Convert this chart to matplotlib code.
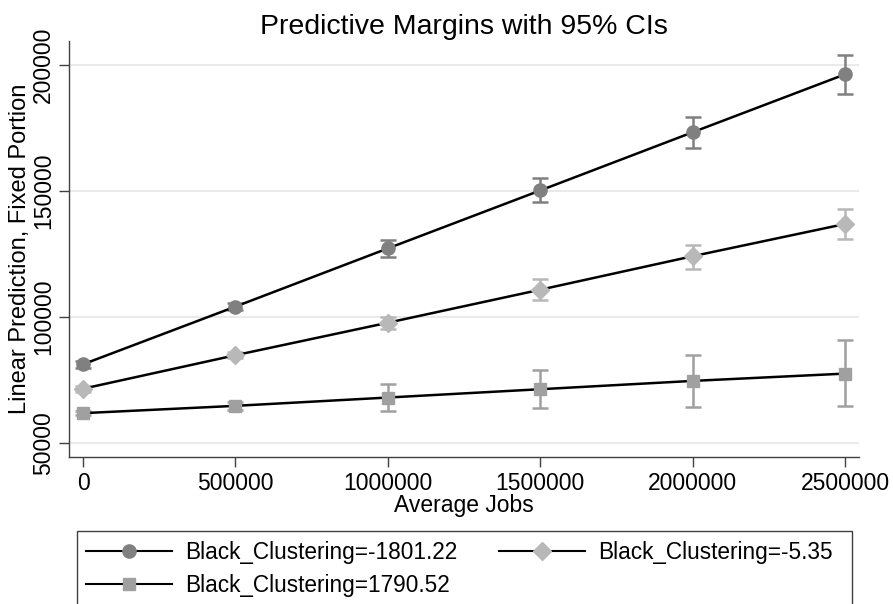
import numpy as np
import matplotlib
matplotlib.use("Agg")
import matplotlib.pyplot as plt
from matplotlib.patches import Rectangle

# Data
jobs = [0, 500000, 1000000, 1500000, 2000000, 2500000]
labels = ["Black_Clustering=-1801.22", "Black_Clustering=-5.35", "Black_Clustering=1790.52"]

low_fit = [81200, 104100, 127200, 150200, 173300, 196300]
low_lo = [79800, 102600, 123900, 145500, 166900, 188400]
low_hi = [82600, 105600, 130500, 155000, 179500, 204100]

mid_fit = [71500, 84800, 97700, 110800, 124100, 136900]
mid_lo = [70300, 83500, 95400, 106600, 118900, 131100]
mid_hi = [72700, 86100, 100000, 115000, 128600, 143000]

high_fit = [61800, 64700, 68000, 71300, 74600, 77500]
high_lo = [60900, 63000, 62800, 63800, 64200, 64700]
high_hi = [62700, 66400, 73400, 79000, 84900, 90900]

fits = [low_fit, mid_fit, high_fit]
los = [low_lo, mid_lo, high_lo]
his = [low_hi, mid_hi, high_hi]
markers = ["o", "D", "s"]
msizes = [9.5, 9.5, 9]
colors = ["#808080", "#b8b8b8", "#a0a0a0"]

plt.rcParams["font.family"] = ["Liberation Sans", "DejaVu Sans"]

W, H = 893, 604
fig = plt.figure(figsize=(W / 100, H / 100), dpi=100)
ax = fig.add_axes([0.0773, 0.2434, 0.8847, 0.6886])

handles = []
for fit, lo, hi, m, ms, c, lab in zip(fits, los, his, markers, msizes, colors, labels):
    fit = np.array(fit)
    yerr = [fit - np.array(lo), np.array(hi) - fit]
    ax.errorbar(jobs, fit, yerr=yerr, fmt="none", ecolor=c, elinewidth=1.8,
                capsize=6, capthick=1.8, zorder=2)
    ax.plot(jobs, fit, color="black", lw=1.8, zorder=3)
    ax.plot(jobs, fit, ls="none", marker=m, ms=ms, color=c, mec=c, zorder=4)
    h, = ax.plot([], [], color="black", lw=1.5, marker=m, ms=ms, mfc=c, mec=c, label=lab)
    handles.append(h)

ax.set_xlim(-46000, 2546000)
ax.set_ylim(44400, 209500)
ax.set_xticks(jobs)
ax.set_xticklabels([str(j) for j in jobs])
ax.set_yticks([50000, 100000, 150000, 200000])
ax.set_yticklabels(["50000", "100000", "150000", "200000"], rotation=90, va="center")
ax.tick_params(axis="both", labelsize=16.5, length=7, width=1, color="#404040", direction="out")
ax.tick_params(axis="x", pad=4)
ax.tick_params(axis="y", pad=3)

ax.grid(axis="y", color="#eaeaea", lw=1.5)
ax.set_axisbelow(True)
for s in ["top", "right"]:
    ax.spines[s].set_visible(False)
for s in ["left", "bottom"]:
    ax.spines[s].set_color("#404040")
    ax.spines[s].set_linewidth(1)

ax.set_xlabel("Average Jobs", fontsize=16.5, labelpad=-1)
ax.set_ylabel("Linear Prediction, Fixed Portion", fontsize=17, labelpad=1)
ax.set_title("Predictive Margins with 95% CIs", fontsize=20.5, pad=5)

# legend box (Stata style, runs off the bottom of the image)
fig.patches.append(Rectangle((77 / W, -0.02), (852 - 77) / W, 0.02 + 1 - 531 / H,
                             transform=fig.transFigure, fill=False,
                             edgecolor="#404040", lw=1))

leg_kw = dict(loc="upper left", fontsize=16.3, frameon=False, handlelength=3.8,
              handletextpad=0.57, borderpad=0, labelspacing=0.45, borderaxespad=0)
leg1 = fig.legend([handles[0], handles[2]], [labels[0], labels[2]],
                  bbox_to_anchor=(86 / W, 1 - 541 / H), **leg_kw)
leg2 = fig.legend([handles[1]], [labels[1]],
                  bbox_to_anchor=(499 / W, 1 - 541 / H), **leg_kw)

fig.savefig("out.png", dpi=100)
